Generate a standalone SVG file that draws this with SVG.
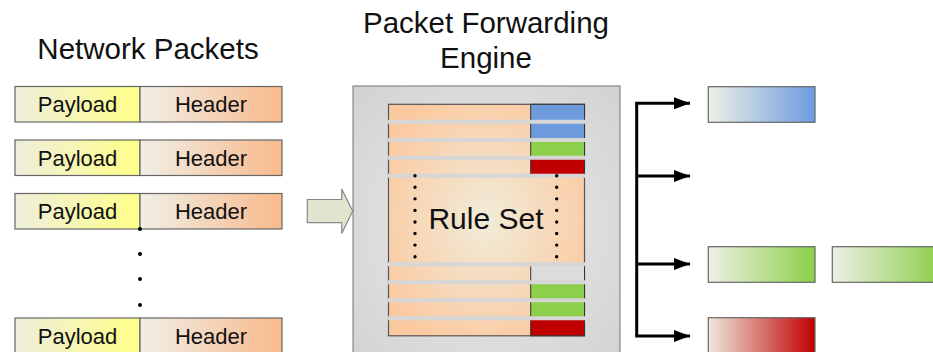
<svg xmlns="http://www.w3.org/2000/svg" width="933" height="352" viewBox="0 0 933 352">
<defs>
<linearGradient id="gPay" x1="0" y1="0" x2="1" y2="0"><stop offset="0" stop-color="#eeeedd"/><stop offset="1" stop-color="#ffff88"/></linearGradient>
<linearGradient id="gHead" x1="0" y1="0" x2="1" y2="0"><stop offset="0" stop-color="#efefe6"/><stop offset="1" stop-color="#f9b98c"/></linearGradient>
<linearGradient id="gBlue" x1="0" y1="0" x2="1" y2="0"><stop offset="0" stop-color="#eef0e6"/><stop offset="1" stop-color="#6d9be0"/></linearGradient>
<linearGradient id="gGreen" x1="0" y1="0" x2="1" y2="0"><stop offset="0" stop-color="#eef0e6"/><stop offset="1" stop-color="#8ccf4a"/></linearGradient>
<linearGradient id="gRed" x1="0" y1="0" x2="1" y2="0"><stop offset="0" stop-color="#eee8dc"/><stop offset="1" stop-color="#c00000"/></linearGradient>
<radialGradient id="gEng" cx="0.5" cy="0.5" r="0.7"><stop offset="0" stop-color="#ececec"/><stop offset="1" stop-color="#d2d2d2"/></radialGradient>
<radialGradient id="gRule" cx="0.5" cy="0.5" r="0.6"><stop offset="0" stop-color="#f1ecd9"/><stop offset="1" stop-color="#fbc9a0"/></radialGradient>
<marker id="ah" viewBox="0 0 16 12" refX="16" refY="6" markerWidth="16" markerHeight="12" markerUnits="userSpaceOnUse" orient="auto"><path d="M0,0 L16,6 L0,12 Z" fill="#000"/></marker>
<style>
.t{font-family:"Liberation Sans",Arial,sans-serif;fill:#111;}
.box{stroke:#666;stroke-width:1.2;}
.sep{stroke:#d6d6d6;stroke-width:4;}
.dot{fill:#000;}
.con{fill:none;stroke:#000;stroke-width:3;}
</style>
</defs>
<rect width="933" height="352" fill="#fff"/>
<text class="t" x="148" y="59" font-size="29.5" text-anchor="middle">Network Packets</text>
<text class="t" x="486" y="33" font-size="29.5" text-anchor="middle">Packet Forwarding</text>
<text class="t" x="486" y="68" font-size="29.5" text-anchor="middle">Engine</text>

<g id="packet1">
<rect class="box" x="15" y="86.5" width="125" height="35.5" fill="url(#gPay)"/>
<rect class="box" x="140" y="86.5" width="142" height="35.5" fill="url(#gHead)"/>
<text class="t" x="77.5" y="112" font-size="22" text-anchor="middle">Payload</text>
<text class="t" x="211" y="112" font-size="22" text-anchor="middle">Header</text>
</g>
<g id="packet2">
<rect class="box" x="15" y="140" width="125" height="35.5" fill="url(#gPay)"/>
<rect class="box" x="140" y="140" width="142" height="35.5" fill="url(#gHead)"/>
<text class="t" x="77.5" y="165.5" font-size="22" text-anchor="middle">Payload</text>
<text class="t" x="211" y="165.5" font-size="22" text-anchor="middle">Header</text>
</g>
<g id="packet3">
<rect class="box" x="15" y="193.5" width="125" height="35.5" fill="url(#gPay)"/>
<rect class="box" x="140" y="193.5" width="142" height="35.5" fill="url(#gHead)"/>
<text class="t" x="77.5" y="219" font-size="22" text-anchor="middle">Payload</text>
<text class="t" x="211" y="219" font-size="22" text-anchor="middle">Header</text>
</g>
<g id="packetDots">
<circle class="dot" cx="140" cy="229" r="2"/>
<circle class="dot" cx="140" cy="254" r="2"/>
<circle class="dot" cx="140" cy="279" r="2"/>
<circle class="dot" cx="140" cy="305" r="2"/>
</g>
<g id="packet4">
<rect class="box" x="15" y="318" width="125" height="35.5" fill="url(#gPay)"/>
<rect class="box" x="140" y="318" width="142" height="35.5" fill="url(#gHead)"/>
<text class="t" x="77.5" y="343.5" font-size="22" text-anchor="middle">Payload</text>
<text class="t" x="211" y="343.5" font-size="22" text-anchor="middle">Header</text>
</g>

<g id="inputArrow">
<path d="M307.3,199.5 L341.7,199.5 L341.7,189 L352.7,211 L341.7,233.5 L341.7,222.7 L307.3,222.7 Z" fill="#dfe5cf" stroke="#888" stroke-width="1.2"/>
</g>

<g id="engine">
<rect x="353" y="86" width="267" height="280" fill="url(#gEng)" stroke="#888" stroke-width="1.2"/>
<rect x="388.5" y="104.3" width="196" height="231.5" fill="url(#gRule)" stroke="#555" stroke-width="1.2"/>
<rect x="530.7" y="104.3" width="53.8" height="17" fill="#6d9bdc" stroke="#333" stroke-width="1"/>
<rect x="530.7" y="122" width="53.8" height="18" fill="#6d9bdc" stroke="#333" stroke-width="1"/>
<rect x="530.7" y="140" width="53.8" height="18" fill="#8ccf4a" stroke="#333" stroke-width="1"/>
<rect x="530.7" y="158" width="53.8" height="17.7" fill="#c00000" stroke="#333" stroke-width="1"/>
<rect x="530.7" y="264.3" width="53.8" height="18" fill="#dcdcdc" stroke="#333" stroke-width="1"/>
<rect x="530.7" y="282.3" width="53.8" height="18" fill="#8ccf4a" stroke="#333" stroke-width="1"/>
<rect x="530.7" y="300.3" width="53.8" height="18" fill="#8ccf4a" stroke="#333" stroke-width="1"/>
<rect x="530.7" y="318.3" width="53.8" height="17.5" fill="#c00000" stroke="#333" stroke-width="1"/>
<line class="sep" x1="388" y1="121.7" x2="586" y2="121.7"/>
<line class="sep" x1="388" y1="140" x2="586" y2="140"/>
<line class="sep" x1="388" y1="157.7" x2="586" y2="157.7"/>
<line class="sep" x1="388" y1="175.7" x2="586" y2="175.7"/>
<line class="sep" x1="388" y1="264.3" x2="586" y2="264.3"/>
<line class="sep" x1="388" y1="282.3" x2="586" y2="282.3"/>
<line class="sep" x1="388" y1="300.3" x2="586" y2="300.3"/>
<line class="sep" x1="388" y1="318.3" x2="586" y2="318.3"/>
<line x1="415" y1="175.7" x2="415" y2="258" stroke="#000" stroke-width="3.4" stroke-linecap="round" stroke-dasharray="0 11.57"/>
<line x1="556.7" y1="175.7" x2="556.7" y2="258" stroke="#000" stroke-width="3.4" stroke-linecap="round" stroke-dasharray="0 11.57"/>
<text class="t" x="486" y="228.5" font-size="30" text-anchor="middle">Rule Set</text>
</g>

<g id="connectors">
<path class="con" d="M636.7,103.3 L636.7,336"/>
<path class="con" d="M635.2,103.3 L690,103.3" marker-end="url(#ah)"/>
<path class="con" d="M636.7,176 L690,176" marker-end="url(#ah)"/>
<path class="con" d="M636.7,264 L690,264" marker-end="url(#ah)"/>
<path class="con" d="M635.2,336 L690,336" marker-end="url(#ah)"/>
</g>

<g id="outBlue"><rect class="box" x="708.3" y="86.7" width="106.7" height="35.6" fill="url(#gBlue)"/></g>
<g id="outGreen1"><rect class="box" x="708.3" y="246.7" width="106.7" height="35.6" fill="url(#gGreen)"/></g>
<g id="outGreen2"><rect class="box" x="832.3" y="246.7" width="106.7" height="35.6" fill="url(#gGreen)"/></g>
<g id="outRed"><rect class="box" x="708.3" y="317.7" width="106.7" height="40" fill="url(#gRed)"/></g>
</svg>
